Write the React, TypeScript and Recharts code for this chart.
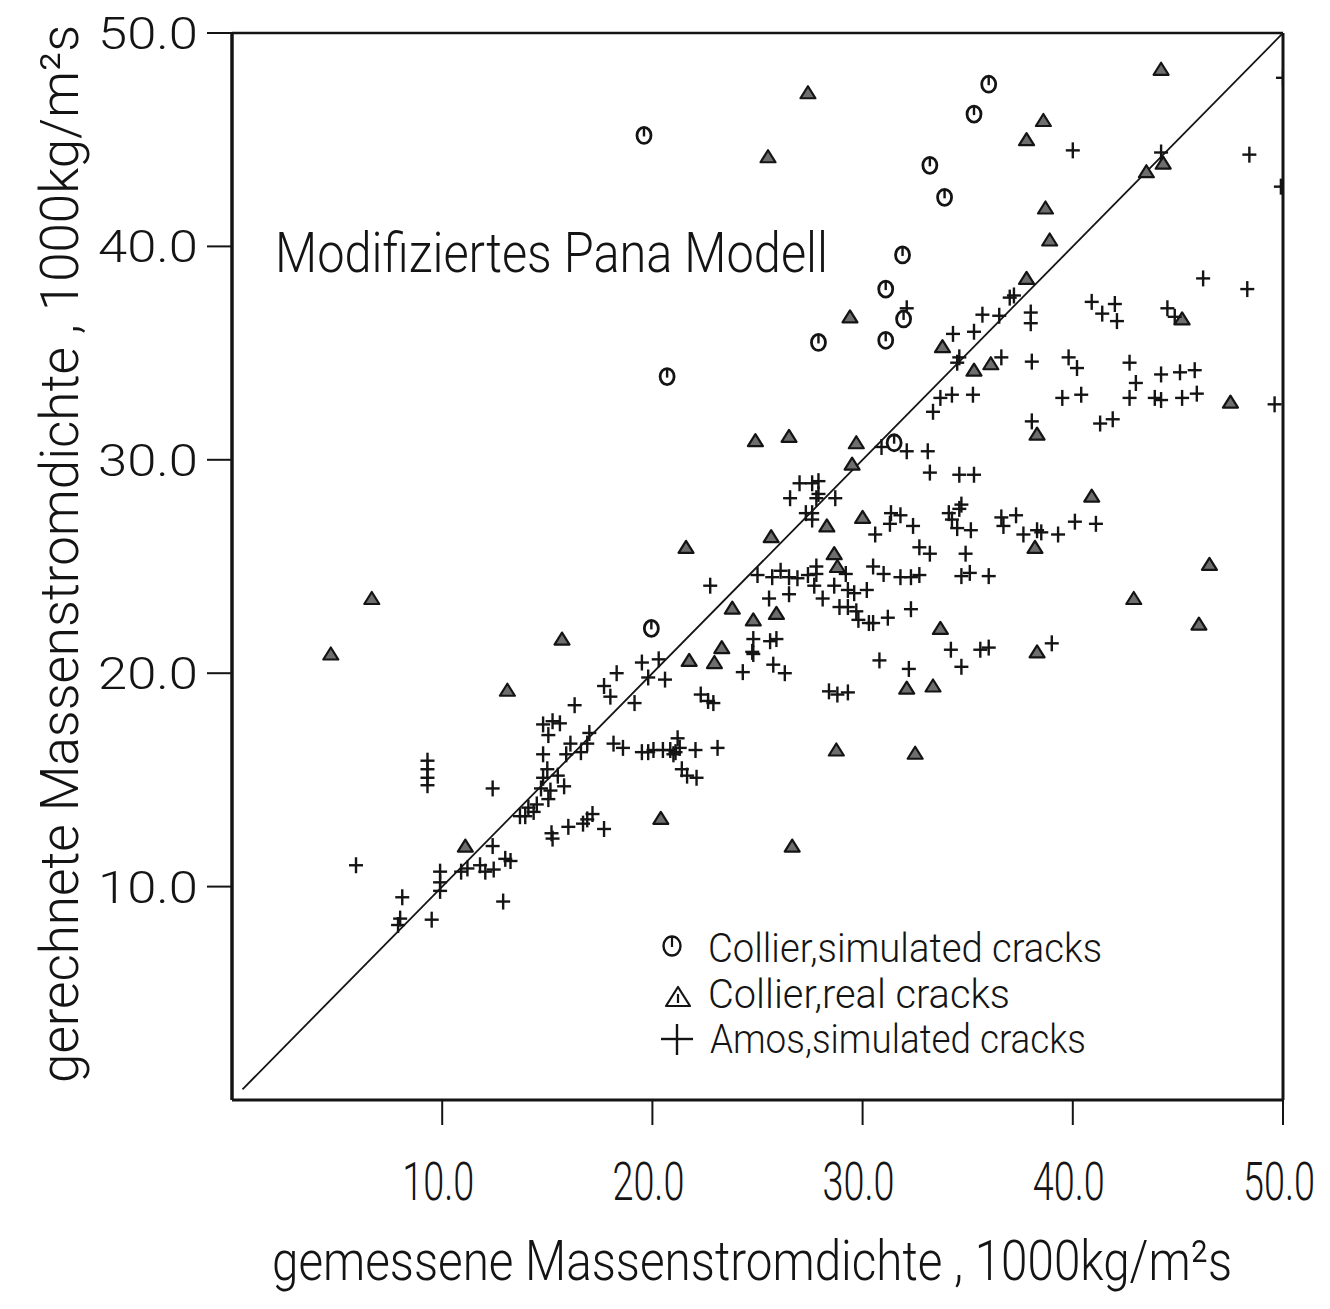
import React from 'react';
import { ScatterChart, Scatter, XAxis, YAxis, ReferenceLine, Customized } from 'recharts';

type P = { x: number; y: number };
const toPoints = (a: number[][]): P[] => a.map(([x, y]) => ({ x, y }));

const xTicks = [10, 20, 30, 40, 50];
const yTicks = [10, 20, 30, 40, 50];
const tickLabels: Record<number, string> = { 10: '10.0', 20: '20.0', 30: '30.0', 40: '40.0', 50: '50.0' };

const collierSimulated = toPoints([
  [19.6, 45.2], [36.0, 47.6], [35.3, 46.2], [33.2, 43.8], [33.9, 42.3], [31.9, 39.6],
  [31.1, 38.0], [31.95, 36.6], [31.1, 35.6], [27.9, 35.5], [20.7, 33.9], [19.95, 22.1],
  [31.5, 30.8],
]);

const collierReal = toPoints([
  [4.7, 20.9], [6.65, 23.5], [27.4, 47.2], [25.5, 44.2], [44.2, 48.3], [37.8, 45.0],
  [38.6, 45.9], [43.5, 43.5], [44.3, 43.9], [38.7, 41.8], [38.9, 40.3], [37.8, 38.5],
  [29.4, 36.7], [33.8, 35.3], [35.3, 34.2], [36.1, 34.5], [45.2, 36.6], [47.5, 32.7],
  [38.3, 31.2], [24.9, 30.9], [26.5, 31.1], [29.7, 30.8], [29.5, 29.8], [21.6, 25.9],
  [25.65, 26.4], [28.3, 26.9], [30.0, 27.3], [28.65, 25.6], [28.8, 25.0], [24.8, 22.5],
  [25.9, 22.8], [23.8, 23.05], [33.7, 22.1], [38.2, 25.9], [38.3, 21.0], [32.1, 19.3],
  [33.35, 19.4], [40.9, 28.3], [46.5, 25.1], [42.9, 23.5], [46.0, 22.3], [28.75, 16.4],
  [32.5, 16.25], [26.65, 11.9], [13.1, 19.2], [21.75, 20.6], [22.95, 20.5], [23.3, 21.2],
  [20.4, 13.2], [11.1, 11.9], [15.7, 21.6],
]);

const amosLow = toPoints([
  [5.9, 11.0], [8.1, 9.5], [7.9, 8.2], [8.0, 8.5], [9.5, 8.45], [9.9, 10.7], [9.9, 10.2],
  [9.9, 9.8], [12.9, 9.3], [10.9, 10.7], [11.2, 10.85], [11.8, 11.0], [12.05, 10.7],
  [12.45, 10.8], [13.0, 11.3], [13.25, 11.2], [12.4, 11.9], [9.3, 15.9], [9.3, 15.5],
  [9.3, 15.1], [9.3, 14.75], [12.4, 14.6], [13.7, 13.3], [14.1, 13.7], [14.35, 13.5],
  [14.5, 13.85], [13.95, 13.3], [15.25, 12.25], [15.2, 12.5], [16.0, 12.8], [16.7, 12.95],
  [16.9, 13.15], [17.15, 13.4], [17.7, 12.7], [15.0, 15.5], [14.8, 15.1], [15.5, 15.2],
  [14.7, 14.6], [15.15, 14.5], [15.8, 14.7], [15.05, 14.1], [14.8, 16.2], [16.1, 16.7],
  [16.6, 16.3], [15.9, 16.2], [16.9, 16.7], [14.8, 17.6], [15.25, 17.75], [15.6, 17.65],
  [15.05, 17.1], [17.0, 17.2], [16.3, 18.5], [18.15, 16.7], [18.6, 16.5],
]);

const amosMid = toPoints([
  [19.5, 16.3], [19.8, 16.3], [20.05, 16.4], [20.5, 16.4], [20.85, 16.4], [21.1, 16.3],
  [21.3, 16.5], [21.0, 16.2], [21.2, 16.95], [22.05, 16.4], [23.1, 16.5], [21.4, 15.5],
  [21.65, 15.2], [22.1, 15.1], [17.7, 19.4], [18.0, 18.9], [18.3, 20.0], [19.15, 18.6],
  [19.5, 20.5], [20.3, 20.65], [19.8, 19.8], [20.6, 19.7], [22.3, 19.0], [22.65, 18.7],
  [22.9, 18.6], [22.75, 24.1], [24.75, 21.0], [24.3, 20.05], [24.8, 21.6], [24.8, 20.9],
  [25.6, 21.5], [25.9, 21.6], [25.75, 20.4], [26.3, 20.0], [25.0, 24.6], [25.7, 24.5],
  [26.1, 24.8], [26.5, 24.5], [26.9, 24.45], [26.5, 23.7], [25.55, 23.5], [27.4, 24.6],
  [27.8, 25.0], [27.8, 24.65], [27.7, 24.1], [28.1, 23.5], [29.2, 24.65], [28.65, 24.1],
  [29.3, 23.9], [29.6, 23.75], [30.2, 23.9], [30.5, 25.0], [31.0, 24.65], [31.8, 24.5],
  [32.3, 24.5], [32.7, 24.6], [34.7, 24.55], [35.1, 24.7], [36.0, 24.55], [28.9, 23.1],
  [29.3, 23.1], [29.7, 22.9], [29.8, 22.5], [30.3, 22.35], [30.5, 22.35], [31.2, 22.6],
  [32.3, 23.0], [34.2, 21.1], [35.6, 21.1], [36.0, 21.2], [30.8, 20.6], [32.2, 20.2],
  [34.7, 20.3], [28.4, 19.15], [28.8, 19.0], [29.3, 19.1], [39.0, 21.4],
]);

const amosHigh = toPoints([
  [27.0, 28.9], [27.6, 28.9], [27.9, 29.0], [27.9, 28.4], [26.55, 28.2], [27.8, 28.2],
  [28.7, 28.2], [27.3, 27.5], [27.6, 27.5], [27.6, 27.2], [30.9, 30.6], [32.1, 30.4],
  [33.1, 30.4], [33.2, 29.4], [34.6, 29.3], [35.3, 29.3], [31.35, 27.5], [31.3, 27.0],
  [31.8, 27.4], [32.4, 26.9], [30.6, 26.5], [34.1, 27.5], [34.7, 27.9], [34.6, 27.7],
  [34.25, 27.2], [34.5, 26.8], [35.15, 26.7], [32.7, 25.9], [33.2, 25.6], [34.9, 25.6],
  [36.6, 27.3], [36.7, 26.9], [37.3, 27.4], [37.65, 26.5], [38.3, 26.7], [38.5, 26.6],
  [39.3, 26.5], [40.1, 27.1], [41.1, 27.0], [32.1, 37.1], [37.0, 37.6], [37.2, 37.7],
  [35.7, 36.8], [36.5, 36.75], [34.3, 35.9], [35.3, 36.0], [34.6, 34.8], [34.5, 34.55],
  [36.6, 34.8], [38.0, 36.9], [38.0, 36.4], [33.7, 32.9], [34.25, 33.05], [35.25, 33.05],
  [33.35, 32.25], [40.9, 37.4], [41.4, 36.85], [42.0, 37.3], [42.1, 36.5], [44.5, 37.1],
  [44.85, 36.7], [38.05, 34.6], [39.8, 34.8], [40.2, 34.3], [42.7, 34.55], [43.0, 33.6],
  [44.2, 34.0], [45.1, 34.1], [45.8, 34.2], [39.5, 32.9], [40.4, 33.05], [42.7, 32.9],
  [43.9, 32.9], [44.2, 32.8], [45.2, 32.9], [45.9, 33.1], [49.6, 32.6], [38.05, 31.8],
  [41.3, 31.7], [41.9, 31.9], [46.2, 38.5], [48.3, 38.0], [40.0, 44.5], [44.2, 44.4],
  [48.4, 44.3], [49.9, 42.8], [50.0, 47.9],
]);

const amosSimulated = [...amosLow, ...amosMid, ...amosHigh];
const diagonal = toPoints([[0.5, 0.5], [50, 50]]);

const INK = '#141414';
const font = "Roboto, 'Liberation Sans', 'DejaVu Sans', sans-serif";

const CircleMark = (p: any) => {
  const { cx, cy } = p;
  return (
    <g>
      <ellipse cx={cx} cy={cy} rx={7} ry={8} fill="#fff" stroke={INK} strokeWidth={2.8} />
      <line x1={cx} y1={cy - 8} x2={cx} y2={cy + 1} stroke={INK} strokeWidth={2.4} />
    </g>
  );
};

const TriMark = (p: any) => {
  const { cx, cy } = p;
  return (
    <path
      d={`M${cx},${cy - 6.5} L${cx + 7.5},${cy + 5.5} L${cx - 7.5},${cy + 5.5} Z`}
      fill="#6e6e6e"
      stroke={INK}
      strokeWidth={2.2}
      strokeLinejoin="round"
    />
  );
};

const PlusMark = (p: any) => {
  const { cx, cy } = p;
  return (
    <g stroke={INK} strokeWidth={2.4}>
      <line x1={cx - 7} y1={cy} x2={cx + 7} y2={cy} />
      <line x1={cx} y1={cy - 8} x2={cx} y2={cy + 8} />
    </g>
  );
};

const NoMark = () => <g />;

const XTick = (p: any) => {
  const { x, y, payload } = p;
  return (
    <text
      x={x - 4}
      y={y + 75}
      textAnchor="middle"
      fontFamily={font}
      fontWeight={300}
      fontSize={54}
      fill={INK}
      textLength={72}
      lengthAdjust="spacingAndGlyphs"
    >
      {tickLabels[payload.value]}
    </text>
  );
};

const YTick = (p: any) => {
  const { x, y, payload } = p;
  return (
    <text
      x={x}
      y={y + 16}
      textAnchor="end"
      fontFamily={font}
      fontWeight={300}
      fontSize={44}
      fill={INK}
      textLength={100}
      lengthAdjust="spacingAndGlyphs"
    >
      {tickLabels[payload.value]}
    </text>
  );
};

const Decorations = () => (
  <g fill={INK} fontFamily={font} fontWeight={300}>
    <text x={275} y={272} fontSize={56} textLength={553} lengthAdjust="spacingAndGlyphs">
      Modifiziertes Pana Modell
    </text>
    <text x={752} y={1280} textAnchor="middle" fontSize={56} textLength={960} lengthAdjust="spacingAndGlyphs">
      gemessene Massenstromdichte , 1000kg/m²s
    </text>
    <text
      transform="translate(78,554) rotate(-90)"
      textAnchor="middle"
      fontSize={54}
      textLength={1058}
      lengthAdjust="spacingAndGlyphs"
    >
      gerechnete Massenstromdichte , 1000kg/m²s
    </text>
    <g>
      <ellipse cx={672} cy={946} rx={8.5} ry={9.5} fill="#fff" stroke={INK} strokeWidth={2.4} />
      <line x1={672} y1={936.5} x2={672} y2={947} stroke={INK} strokeWidth={2.2} />
      <text x={708} y={962} fontSize={41} textLength={394} lengthAdjust="spacingAndGlyphs">
        Collier,simulated cracks
      </text>
      <path d="M678,987 L690,1006 L666,1006 Z" fill="#fff" stroke={INK} strokeWidth={2.2} strokeLinejoin="round" />
      <line x1={678} y1={994} x2={678} y2={1003} stroke={INK} strokeWidth={2.2} />
      <text x={708} y={1008} fontSize={41} textLength={302} lengthAdjust="spacingAndGlyphs">
        Collier,real cracks
      </text>
      <line x1={661} y1={1039} x2={693} y2={1039} stroke={INK} strokeWidth={2.4} />
      <line x1={677} y1={1024} x2={677} y2={1055} stroke={INK} strokeWidth={2.4} />
      <text x={710} y={1053} fontSize={41} textLength={376} lengthAdjust="spacingAndGlyphs">
        Amos,simulated cracks
      </text>
    </g>
  </g>
);

export default function App() {
  return (
    <div style={{ position: 'absolute', left: 0, top: 0, background: '#fff' }}>
      <ScatterChart width={1330} height={1309} margin={{ top: 33, right: 47, bottom: 0, left: 0 }}>
        <XAxis
          type="number"
          dataKey="x"
          domain={[0, 50]}
          ticks={xTicks}
          height={209}
          tickSize={25}
          tickMargin={0}
          tick={<XTick />}
          axisLine={{ stroke: INK, strokeWidth: 3 }}
          tickLine={{ stroke: INK, strokeWidth: 2 }}
          allowDataOverflow
        />
        <YAxis
          type="number"
          dataKey="y"
          domain={[0, 50]}
          ticks={yTicks}
          width={232}
          tickSize={25}
          tickMargin={9}
          tick={<YTick />}
          axisLine={{ stroke: INK, strokeWidth: 3.5 }}
          tickLine={{ stroke: INK, strokeWidth: 2 }}
          allowDataOverflow
        />
        <ReferenceLine x={50} stroke={INK} strokeWidth={3} />
        <ReferenceLine y={50} stroke={INK} strokeWidth={2.5} />
        <Scatter
          name="diagonal"
          data={diagonal}
          line={{ stroke: INK, strokeWidth: 1.8 }}
          shape={NoMark}
          isAnimationActive={false}
        />
        <Scatter name="Collier,real cracks" data={collierReal} shape={TriMark} isAnimationActive={false} />
        <Scatter name="Amos,simulated cracks" data={amosSimulated} shape={PlusMark} isAnimationActive={false} />
        <Scatter name="Collier,simulated cracks" data={collierSimulated} shape={CircleMark} isAnimationActive={false} />
        <Customized component={Decorations} />
      </ScatterChart>
    </div>
  );
}
